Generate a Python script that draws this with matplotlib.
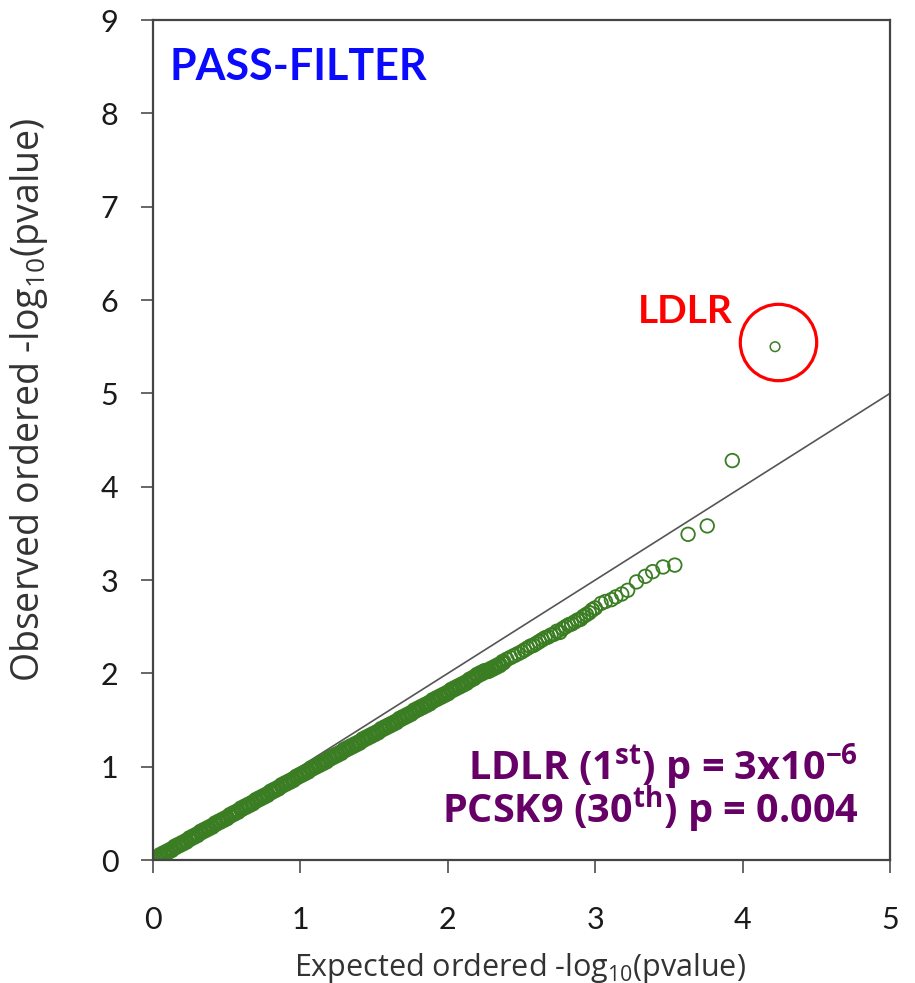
import matplotlib
matplotlib.use("Agg")
import matplotlib.pyplot as plt

plt.rcParams['font.family'] = ['Lato', 'DejaVu Sans']
plt.rcParams['mathtext.fontset'] = 'custom'
plt.rcParams['mathtext.rm'] = 'Open Sans'
plt.rcParams['mathtext.it'] = 'Open Sans:italic'
plt.rcParams['mathtext.bf'] = 'Open Sans:bold'

# top-ranked genes, expected vs observed -log10(p)
tail_expected = [4.22, 3.93, 3.76, 3.63, 3.54, 3.46, 3.39, 3.34, 3.28, 3.22,
                 3.18, 3.14, 3.11, 3.07, 3.04]
tail_observed = [5.50, 4.28, 3.58, 3.49, 3.16, 3.14, 3.09, 3.04, 2.98, 2.89,
                 2.85, 2.82, 2.79, 2.77, 2.75]

# bulk of the genes along the diagonal
bulk_expected = [0.000, 0.025, 0.050, 0.075, 0.100, 0.125, 0.150, 0.175, 0.200, 0.225,
                 0.250, 0.275, 0.300, 0.325, 0.350, 0.375, 0.400, 0.425, 0.450, 0.475,
                 0.500, 0.525, 0.550, 0.575, 0.600, 0.625, 0.650, 0.675, 0.700, 0.725,
                 0.750, 0.775, 0.800, 0.825, 0.850, 0.875, 0.900, 0.925, 0.950, 0.975,
                 1.000, 1.025, 1.050, 1.075, 1.100, 1.125, 1.150, 1.175, 1.200, 1.225,
                 1.250, 1.275, 1.300, 1.325, 1.350, 1.375, 1.400, 1.425, 1.450, 1.475,
                 1.500, 1.525, 1.550, 1.575, 1.600, 1.625, 1.650, 1.675, 1.700, 1.725,
                 1.750, 1.775, 1.800, 1.825, 1.850, 1.875, 1.900, 1.925, 1.950, 1.975,
                 2.000, 2.025, 2.050, 2.075, 2.100, 2.125, 2.150, 2.175, 2.200, 2.225,
                 2.250, 2.275, 2.300, 2.325, 2.350, 2.375, 2.400, 2.425, 2.450, 2.475,
                 2.500, 2.52, 2.54, 2.56, 2.58, 2.60, 2.62, 2.64, 2.66, 2.68,
                 2.70, 2.72, 2.74, 2.76, 2.78, 2.80, 2.82, 2.84, 2.86, 2.88,
                 2.90, 2.92, 2.94, 2.96, 2.98, 3.00]
bulk_observed = [0.00, 0.02, 0.05, 0.07, 0.09, 0.11, 0.14, 0.16, 0.18, 0.20,
                 0.23, 0.25, 0.27, 0.30, 0.32, 0.34, 0.36, 0.39, 0.41, 0.43,
                 0.45, 0.48, 0.50, 0.52, 0.55, 0.57, 0.59, 0.61, 0.64, 0.66,
                 0.68, 0.70, 0.73, 0.75, 0.77, 0.80, 0.82, 0.84, 0.86, 0.89,
                 0.91, 0.93, 0.95, 0.98, 1.00, 1.02, 1.04, 1.06, 1.09, 1.11,
                 1.13, 1.15, 1.18, 1.20, 1.22, 1.24, 1.26, 1.29, 1.31, 1.33,
                 1.35, 1.37, 1.40, 1.42, 1.44, 1.46, 1.48, 1.51, 1.53, 1.55,
                 1.57, 1.60, 1.62, 1.64, 1.66, 1.68, 1.71, 1.73, 1.75, 1.77,
                 1.79, 1.82, 1.84, 1.86, 1.88, 1.90, 1.93, 1.95, 1.98, 2.00,
                 2.02, 2.03, 2.05, 2.07, 2.09, 2.12, 2.15, 2.17, 2.19, 2.21,
                 2.23, 2.25, 2.27, 2.29, 2.30, 2.32, 2.34, 2.36, 2.38, 2.39,
                 2.41, 2.42, 2.45, 2.44, 2.48, 2.50, 2.52, 2.53, 2.55, 2.57,
                 2.58, 2.61, 2.63, 2.65, 2.68, 2.70]

x_ticks = [0, 1, 2, 3, 4, 5]
y_ticks = [0, 1, 2, 3, 4, 5, 6, 7, 8, 9]

green = '#3b7d23'
axis_grey = '#444444'
n_dense = 96  # points below ~2.4 overlap into a solid band

fig = plt.figure(figsize=(9.15, 9.83), dpi=100)
ax = fig.add_axes([0.1672, 0.1251, 0.8055, 0.8545])

# null expectation
ax.plot([0, 5], [0, 5], color='#555555', lw=1.2, zorder=1)

ax.scatter(bulk_expected[:n_dense], bulk_observed[:n_dense], s=90,
           facecolors='none', edgecolors=green, linewidths=2.8, zorder=2)
ax.scatter(bulk_expected[n_dense:], bulk_observed[n_dense:], s=95,
           facecolors='none', edgecolors=green, linewidths=1.5, zorder=2)
ax.scatter(tail_expected[1:], tail_observed[1:], s=95, facecolors='none',
           edgecolors=green, linewidths=1.3, zorder=2)
ax.scatter(tail_expected[:1], tail_observed[:1], s=48, facecolors='none',
           edgecolors=green, linewidths=1.1, zorder=2)

# red ring around LDLR
ax.plot(tail_expected[0] + 0.02, tail_observed[0] + 0.05, marker='o', ms=55,
        mfc='none', mec='#ff0000', mew=2.3, zorder=3)
ax.text(0.787, 0.639, 'LDLR', transform=ax.transAxes, ha='right', va='baseline',
        color='#ff0000', fontsize=28, fontweight='bold')

ax.text(0.023, 0.9286, 'PASS-FILTER', transform=ax.transAxes, ha='left',
        va='baseline', color='#0a0aff', fontsize=31, fontweight='bold')

purple = '#660066'
ax.text(0.957, 0.0952, r'LDLR (1$^{\mathbf{st}}$) p = 3x10$^{\mathbf{-6}}$',
        transform=ax.transAxes, ha='right', va='baseline', color=purple,
        fontsize=28.5, fontweight='bold', family='Open Sans')
ax.text(0.957, 0.044, r'PCSK9 (30$^{\mathbf{th}}$) p = 0.004',
        transform=ax.transAxes, ha='right', va='baseline', color=purple,
        fontsize=28.5, fontweight='bold', family='Open Sans')

ax.set_xlim(0, 5)
ax.set_ylim(0, 9)
ax.set_xticks(x_ticks)
ax.set_yticks(y_ticks)
ax.tick_params(axis='both', direction='out', length=9, width=1.4,
               color='#666666', labelsize=22, labelcolor='#1a1a1a')
ax.tick_params(axis='x', pad=24)
ax.tick_params(axis='y', pad=16)
for side in ax.spines.values():
    side.set_color(axis_grey)
    side.set_linewidth(1.6)

ax.set_xlabel('Expected ordered -log$_{10}$(pvalue)', fontsize=22,
              color='#333333', family='Open Sans')
ax.set_ylabel('Observed ordered -log$_{10}$(pvalue)', fontsize=27,
              color='#333333', family='Open Sans')
ax.xaxis.set_label_coords(0.498, -0.108)
ax.yaxis.set_label_coords(-0.140, 0.548)

fig.savefig('out.png', dpi=100)
